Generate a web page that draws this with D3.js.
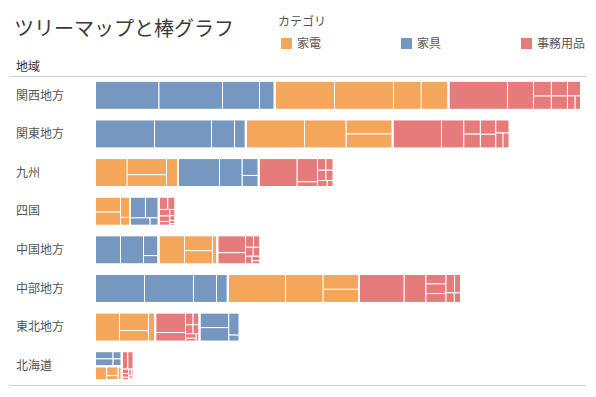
<!DOCTYPE html>
<html>
<head>
<meta charset="utf-8">
<script src="https://cdn.jsdelivr.net/npm/d3@7"></script>
<style>
  body { margin: 0; background: #fff; }
  text { font-family: "Noto Sans CJK JP", "Noto Sans", sans-serif; }
</style>
</head>
<body>
<div id="chart"></div>
<script>
// regions, top to bottom
const regions = ['関西地方', '関東地方', '九州', '四国', '中国地方', '中部地方', '東北地方', '北海道'];
const categories = ['家電', '家具', '事務用品'];
const catColors = ['#F4A65A', '#7697BF', '#E67B7B'];

const kadenSubs = ['コピー機', '電話機', '事務機器', '付属品'];
const kaguSubs = ['椅子', '本棚', 'テーブル', '家具'];
const jimuSubs = ['保管箱', '電化製品', 'バインダー', '画材', '用紙', '事務用品', '封筒', 'ラベル', 'クリップ'];

// sales (百万円), one row per region
const kadenSales = [
  [59.8, 59, 27.8, 27.2],
  [58.7, 41.7, 23.3, 23.2],
  [32.2, 22.5, 16.8, 11.5],
  [13.5, 12, 6.8, 2.7],
  [26, 14.8, 13.2, 4.8],
  [57.7, 37.7, 19, 16.8],
  [24.5, 18, 11, 6.7],
  [5.6, 3.7, 1.8, 1.7]
];
const kaguSales = [
  [64, 63.5, 37, 15.2],
  [59.5, 57, 23, 11.3],
  [41.5, 22.7, 9.9, 6.6],
  [11.3, 9.7, 5.4, 2.3],
  [25.5, 23, 10.5, 4.5],
  [49.5, 49, 23, 11.3],
  [15.2, 14.1, 8.3, 2.4],
  [4.8, 4.6, 2.3, 2.2]
];
const jimuSales = [
  [59, 26, 9.4, 8.5, 8.4, 7.7, 7, 3.7, 2.8],
  [48.8, 22.3, 8.4, 8.2, 7.9, 7.5, 6.4, 3.9, 3.4],
  [38.5, 16.6, 3.7, 3.5, 3.2, 3.0, 2.7, 2.2, 1.4],
  [4.0, 3.3, 2.5, 2.1, 1.6, 1.2, 0.9, 0.6, 0.4],
  [16.9, 11.3, 3.3, 2.8, 2.4, 2.2, 1.8, 1.3, 1.0],
  [45.2, 21.7, 6.9, 6.7, 6.5, 5.6, 4.2, 2.9, 2.3],
  [20.9, 9.4, 3.2, 2.7, 2.3, 2.0, 1.7, 1.2, 0.9],
  [3.8, 3.5, 1.1, 0.9, 0.7, 0.6, 0.5, 0.4, 0.3]
];

const subsByCat = [kadenSubs, kaguSubs, jimuSubs];
const salesByCat = [kadenSales, kaguSales, jimuSales];

const width = 596, height = 397;
const plotLeft = 95, plotRight = 581;

const svg = d3.select('#chart').append('svg')
  .attr('width', width)
  .attr('height', height);

const color = d3.scaleOrdinal().domain(categories).range(catColors);

// build one hierarchy per region
const roots = regions.map((region, r) => d3.hierarchy({
    name: region,
    children: categories.map((cat, c) => ({
      name: cat,
      children: subsByCat[c].map((sub, s) => ({ name: sub, value: salesByCat[c][r][s] }))
    }))
  })
  .sum(d => d.value)
  .sort((a, b) => b.value - a.value));

const x = d3.scaleLinear()
  .domain([0, d3.max(roots, d => d.value)])
  .range([plotLeft, plotRight]);

const y = d3.scaleBand()
  .domain(regions)
  .range([76, 385])
  .paddingInner(0.25)
  .paddingOuter(0.125);

// title
svg.append('text')
  .attr('x', 14)
  .attr('y', 36)
  .attr('font-size', 20)
  .attr('fill', '#3a3a3a')
  .text('ツリーマップと棒グラフ');

// legend
svg.append('text')
  .attr('x', 278)
  .attr('y', 26)
  .attr('font-size', 12)
  .attr('fill', '#555')
  .text('カテゴリ');

const legend = svg.selectAll('g.legend')
  .data(categories)
  .join('g')
  .attr('class', 'legend')
  .attr('transform', (d, i) => `translate(${281 + i * 120}, 38)`);

legend.append('rect')
  .attr('width', 11)
  .attr('height', 11)
  .attr('fill', d => color(d));

legend.append('text')
  .attr('x', 16)
  .attr('y', 10)
  .attr('font-size', 12)
  .attr('fill', '#555')
  .text(d => d);

// row header + rules
svg.append('text')
  .attr('x', 16)
  .attr('y', 71)
  .attr('font-size', 12)
  .attr('fill', '#333')
  .text('地域');

svg.append('line')
  .attr('x1', 9).attr('x2', 586)
  .attr('y1', 76.5).attr('y2', 76.5)
  .attr('stroke', '#d0d0d0');

svg.append('line')
  .attr('x1', 9).attr('x2', 586)
  .attr('y1', 385.5).attr('y2', 385.5)
  .attr('stroke', '#d0d0d0');

// region labels
svg.selectAll('text.region')
  .data(regions)
  .join('text')
  .attr('class', 'region')
  .attr('x', 16)
  .attr('y', d => y(d) + y.bandwidth() / 2)
  .attr('dy', '0.35em')
  .attr('font-size', 12)
  .attr('fill', '#555')
  .text(d => d);

// one squarified treemap per row, width from the sales scale
roots.forEach((root, r) => {
  d3.treemap()
    .tile(d3.treemapSquarify)
    .size([x(root.value) - x(0), y.bandwidth()])(root);

  const g = svg.append('g')
    .attr('transform', `translate(${x(0)}, ${y(regions[r])})`);

  g.selectAll('rect.leaf')
    .data(root.leaves())
    .join('rect')
    .attr('class', 'leaf')
    .attr('x', d => d.x0)
    .attr('y', d => d.y0)
    .attr('width', d => d.x1 - d.x0)
    .attr('height', d => d.y1 - d.y0)
    .attr('fill', d => color(d.parent.data.name))
    .attr('stroke', '#fff')
    .attr('stroke-width', 1);

  g.selectAll('rect.cat')
    .data(root.children)
    .join('rect')
    .attr('class', 'cat')
    .attr('x', d => d.x0)
    .attr('y', d => d.y0)
    .attr('width', d => d.x1 - d.x0)
    .attr('height', d => d.y1 - d.y0)
    .attr('fill', 'none')
    .attr('stroke', '#fff')
    .attr('stroke-width', 2);
});
</script>
</body>
</html>
